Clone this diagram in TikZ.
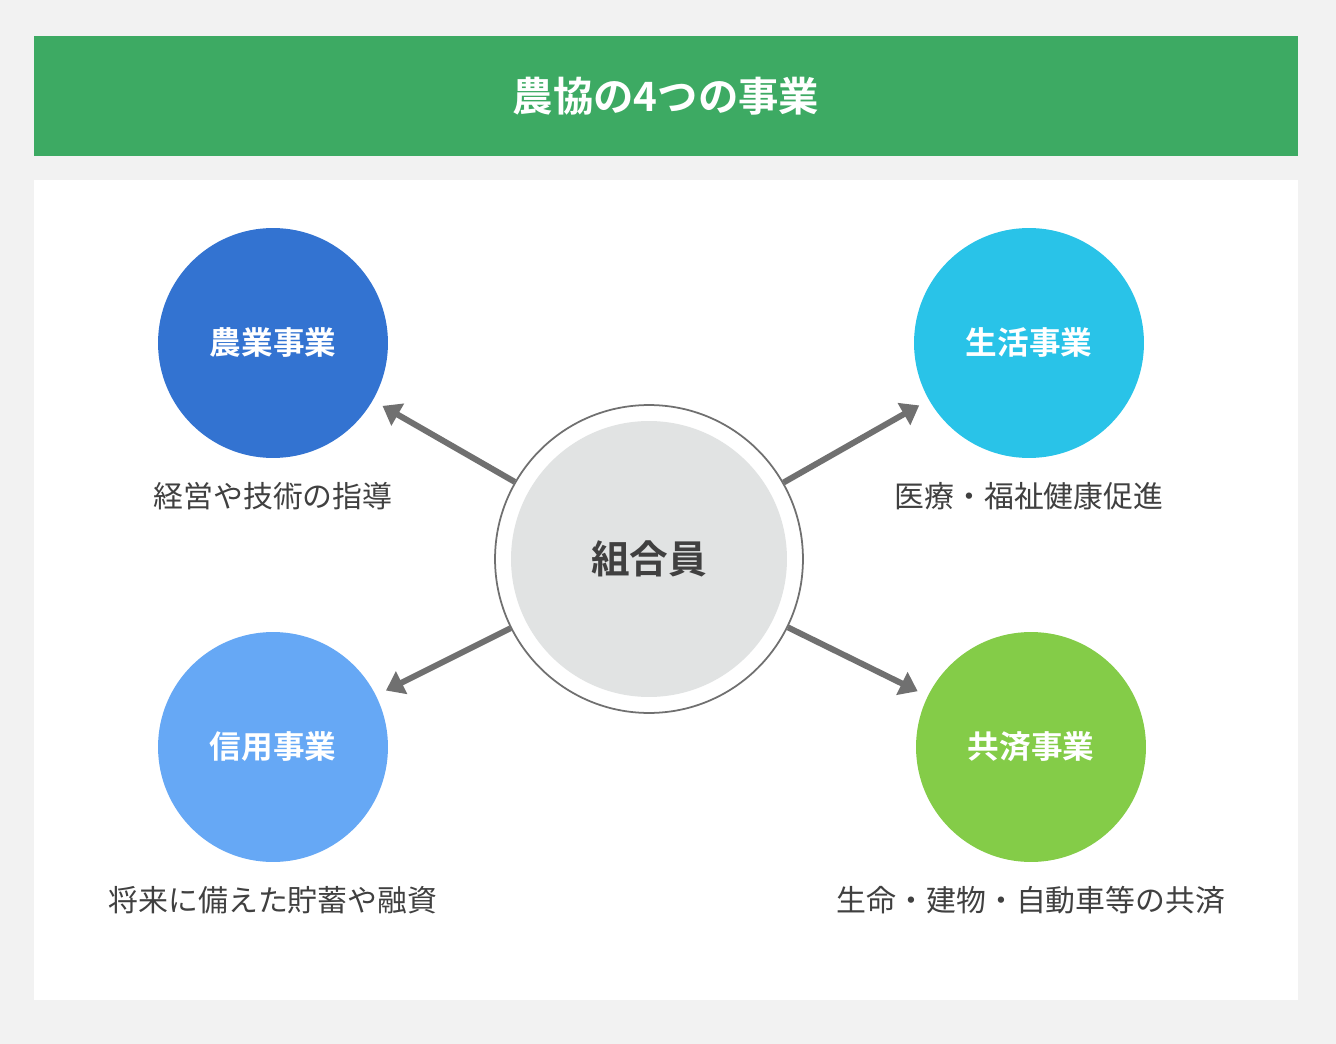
\documentclass[tikz,border=0pt]{standalone}
\usepackage{fontspec}
\newfontfamily\cjk{Noto Sans CJK JP}
\newfontfamily\cjkb{Noto Sans CJK JP Bold}
\usetikzlibrary{arrows.meta,positioning}
\definecolor{bggray}{HTML}{F2F2F2}
\definecolor{bannergreen}{HTML}{3DAA63}
\definecolor{agriblue}{HTML}{3373D1}
\definecolor{lifecyan}{HTML}{29C3E8}
\definecolor{creditblue}{HTML}{66A8F5}
\definecolor{mutualgreen}{HTML}{84CC48}
\definecolor{membergray}{HTML}{E1E3E3}
\definecolor{arrowgray}{HTML}{707070}
\definecolor{textgray}{HTML}{404040}
\begin{document}
\begin{tikzpicture}
[x=0.02cm,y=-0.02cm,
business/.style={shape=circle,minimum size=4.6cm,inner sep=0pt,text=white,font=\cjkb\fontsize{18}{20}\selectfont},
note/.style={text=textgray,font=\cjk\fontsize{17}{20}\selectfont},
myarrow/.style={draw=arrowgray,line width=3.4pt,-{Triangle[length=10pt,width=14pt]},shorten >=0.22cm}]

\fill[bggray] (0,0) rectangle (1336,1044);
\fill[bannergreen] (34,36) rectangle (1298,156);
\node (title) [text=white,font=\cjkb\fontsize{23}{26}\selectfont] at (666,96) {農協の4つの事業};
\fill[white] (34,180) rectangle (1298,1000);

\node (member) [shape=circle,draw=arrowgray,fill=white,line width=1pt,minimum size=6.16cm] at (649,559) {};
\node (memberin) [shape=circle,fill=membergray,minimum size=5.52cm,text=textgray,font=\cjkb\fontsize{22}{24}\selectfont] at (649,559) {組合員};

\node (agri) [business,fill=agriblue] at (273,343) {農業事業};
\node (life) [business,fill=lifecyan] at (1029,343) {生活事業};
\node (credit) [business,fill=creditblue] at (273,747) {信用事業};
\node (mutual) [business,fill=mutualgreen] at (1031,747) {共済事業};

\node (agrinote) [note] at (273,496) {経営や技術の指導};
\node (lifenote) [note] at (1029,496) {医療・福祉健康促進};
\node (creditnote) [note] at (273,900) {将来に備えた貯蓄や融資};
\node (mutualnote) [note] at (1031,900) {生命・建物・自動車等の共済};

\draw[myarrow] (member) -- (agri);
\draw[myarrow] (member) -- (life);
\draw[myarrow] (member) -- (credit);
\draw[myarrow] (member) -- (mutual);
\end{tikzpicture}
\end{document}
